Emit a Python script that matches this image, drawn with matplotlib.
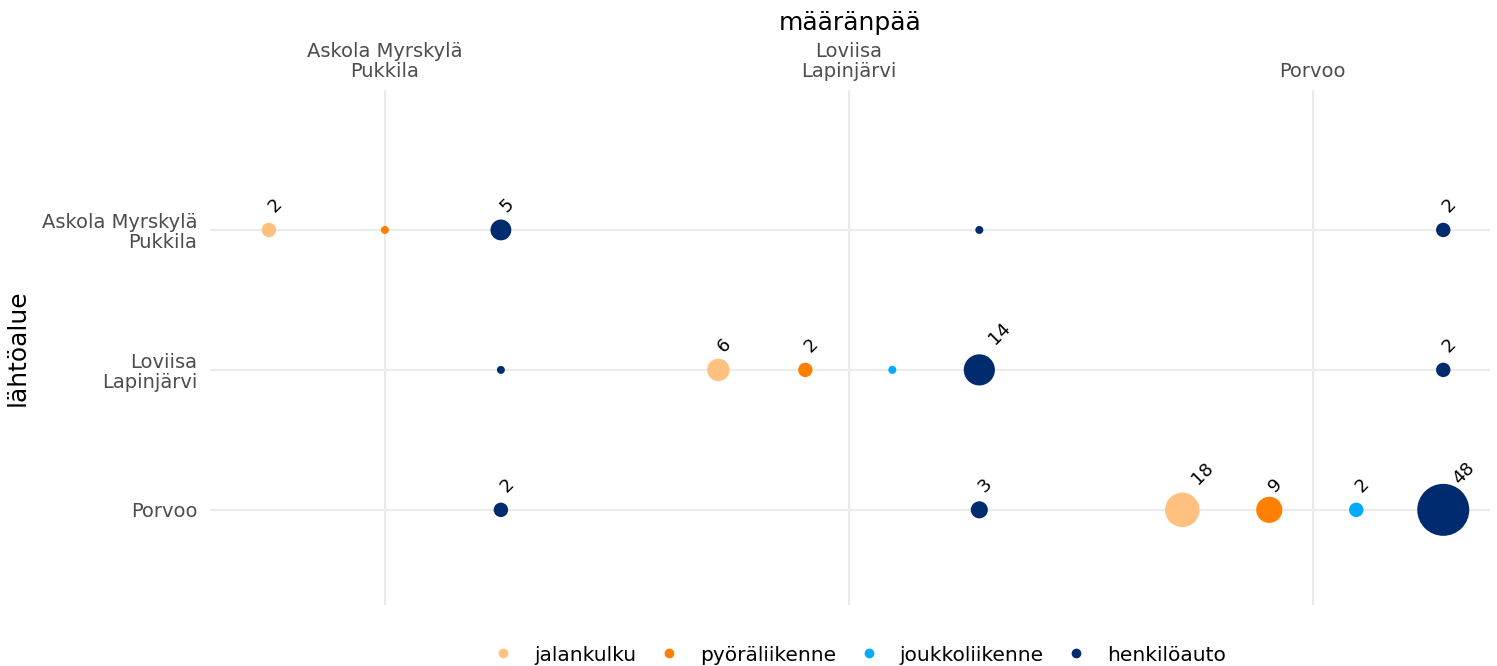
import numpy as np
import matplotlib.pyplot as plt
from matplotlib.lines import Line2D

places = ['Askola Myrskylä\nPukkila', 'Loviisa\nLapinjärvi', 'Porvoo']
modes = ['jalankulku', 'pyöräliikenne', 'joukkoliikenne', 'henkilöauto']
mode_colors = ['#FFC080', '#FF8000', '#00AAFF', '#002B6E']

# trips: origin area, destination area, travel mode, count
origin = [0, 0, 0, 0, 0,
          1, 1, 1, 1, 1, 1,
          2, 2, 2, 2, 2, 2]
dest = [0, 0, 0, 1, 2,
        0, 1, 1, 1, 1, 2,
        0, 1, 2, 2, 2, 2]
mode = [0, 1, 3, 3, 3,
        3, 0, 1, 2, 3, 3,
        3, 3, 0, 1, 2, 3]
trips = [2, 1, 5, 1, 2,
         1, 6, 2, 1, 14, 2,
         2, 3, 18, 9, 2, 48]

fig = plt.figure(figsize=(14.97, 6.66), dpi=100)
ax = fig.add_axes([210 / 1497, 61 / 666, 1280 / 1497, 515 / 666])

# dodge the modes inside each destination column
dodge_w = 0.75
xs, ys, sizes, cols = [], [], [], []
vmin, vmax = min(trips), max(trips)
for o, d, m, v in zip(origin, dest, mode, trips):
    present = sorted(set(mm for dd, mm in zip(dest, mode) if dd == d))
    n = len(present)
    off = (present.index(m) - (n - 1) / 2) * dodge_w / n
    xs.append(d + off)
    ys.append(3 - o)
    d_px = 8 + 44 * np.sqrt((v - vmin) / (vmax - vmin))
    sizes.append((d_px * 0.72) ** 2)
    cols.append(mode_colors[m])

ax.scatter(xs, ys, s=sizes, c=cols, linewidths=0, zorder=3)

# value labels (only for 2 or more trips), pushed out along the diagonal
for x, y, v in zip(xs, ys, trips):
    if v >= 2:
        extra = len(str(v)) - 1
        ax.annotate(str(v), (x, y),
                    xytext=(1.5 + 7 * extra, 14.5 + 6 * extra),
                    textcoords='offset points',
                    rotation=45, rotation_mode='anchor', ha='left', va='center',
                    fontsize=13, color='black', zorder=4)

ax.set_xlim(-0.377, 2.382)
ax.set_ylim(0.32, 4.0)
ax.set_xticks([0, 1, 2])
ax.set_xticklabels(places, fontsize=14, color='#4D4D4D', linespacing=1.05)
ax.set_yticks([3, 2, 1])
ax.set_yticklabels(places, fontsize=14, color='#4D4D4D', ha='right', linespacing=1.05)
ax.xaxis.tick_top()
ax.xaxis.set_label_position('top')
ax.tick_params(axis='x', length=0, pad=6.5)
ax.tick_params(axis='y', length=0, pad=9)
ax.set_xlabel('määränpää', fontsize=18, labelpad=9)
ax.set_ylabel('lähtöalue', fontsize=18)
ax.yaxis.set_label_coords(-0.141, 0.5)

ax.grid(True, color='#EBEBEB', linewidth=1.5)
ax.set_axisbelow(True)
for sp in ax.spines.values():
    sp.set_visible(False)

handles = [Line2D([], [], marker='o', linestyle='', markersize=7,
                  markerfacecolor=c, markeredgewidth=0) for c in mode_colors]
fig.legend(handles, modes, loc='lower center', ncol=4, frameon=False,
           fontsize=14.5, bbox_to_anchor=(0.571, -0.025), columnspacing=0.6,
           handletextpad=0.55)

fig.savefig('out.png', dpi=100)
